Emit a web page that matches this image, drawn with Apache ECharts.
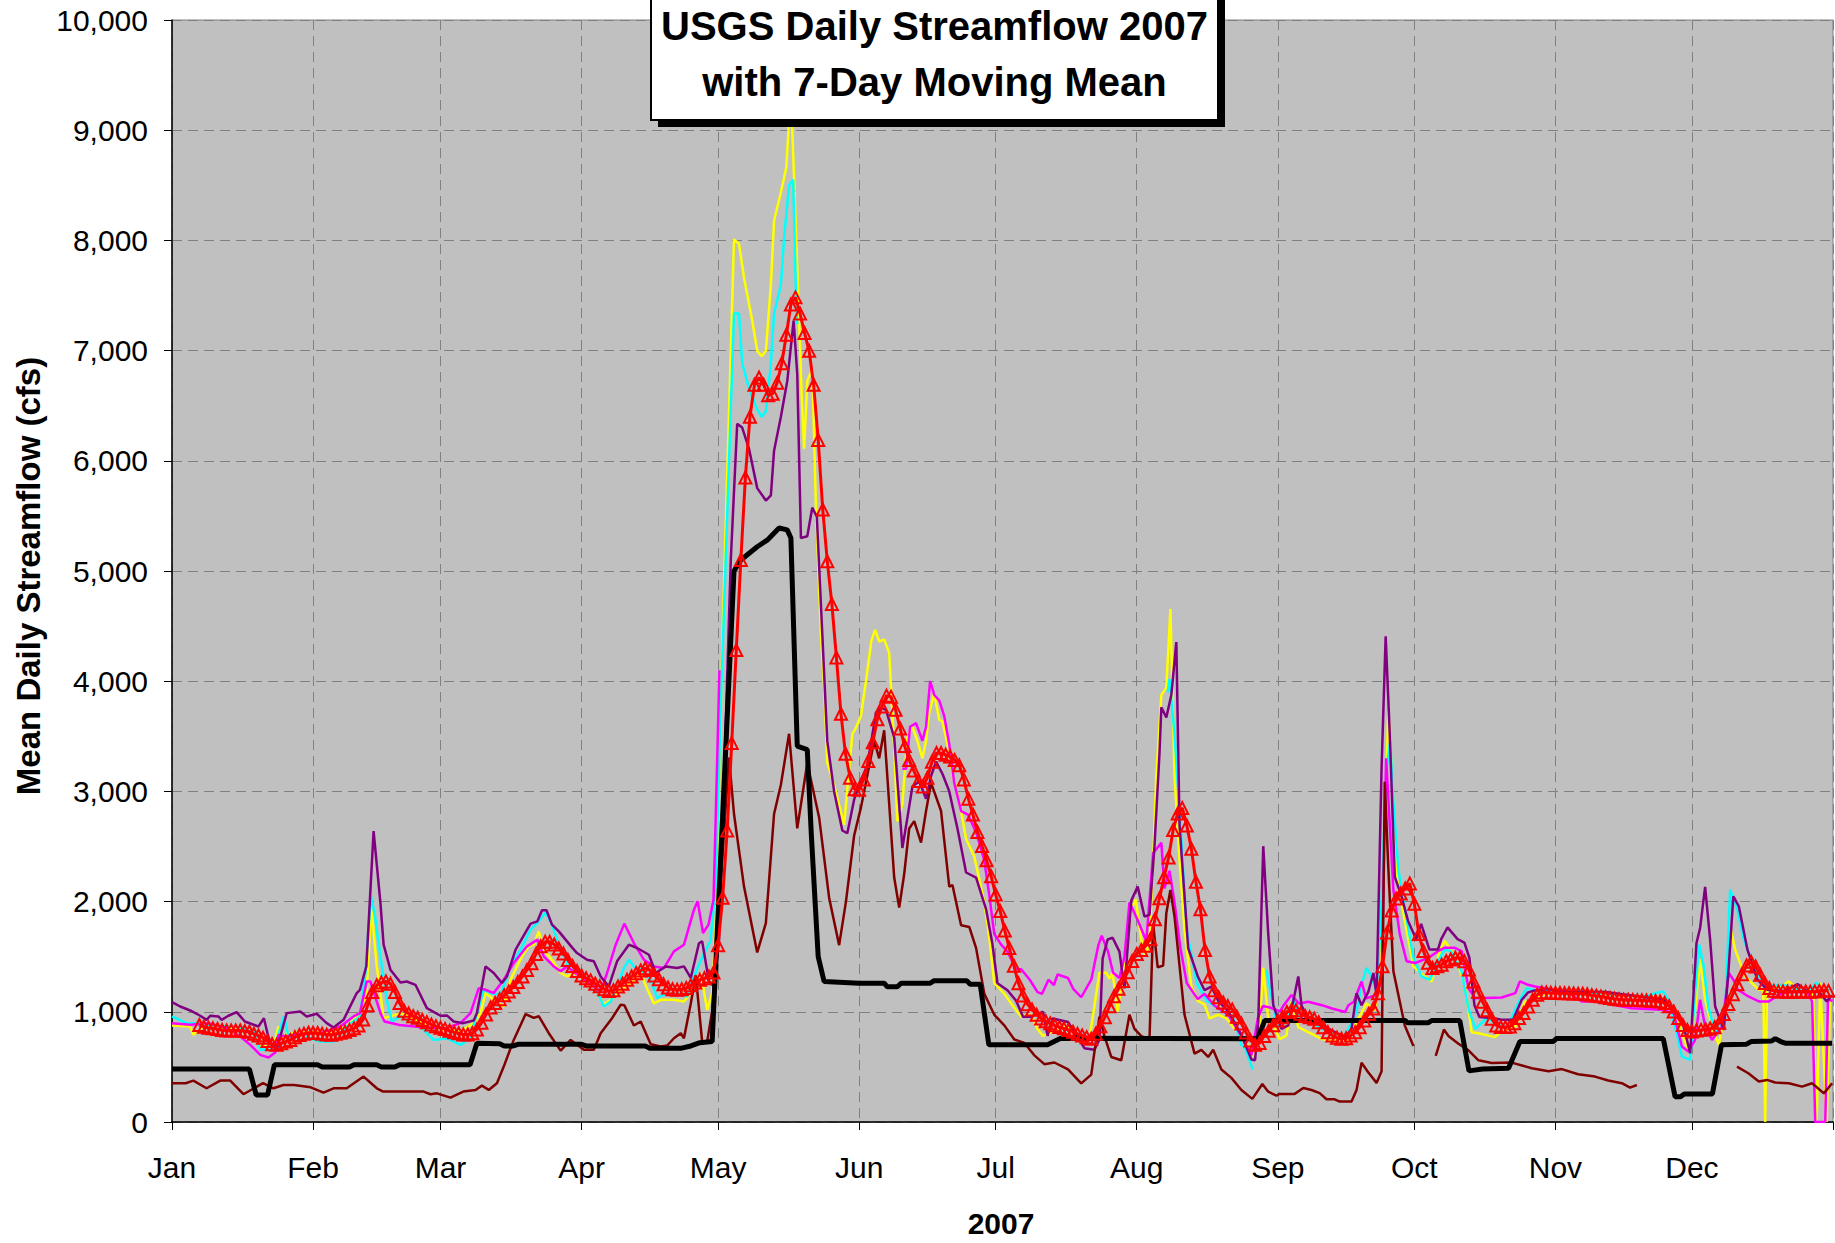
<!DOCTYPE html>
<html>
<head>
<meta charset="utf-8">
<script src="https://cdn.jsdelivr.net/npm/echarts@6/dist/echarts.min.js"></script>
<style>html,body{margin:0;padding:0;background:#fff}#c{width:1835px;height:1243px}</style>
</head>
<body>
<div id="c"></div>
<script>
// ---- data (day of year 2007, 0 = Jan 1) ----
const monthNames = ['Jan','Feb','Mar','Apr','May','Jun','Jul','Aug','Sep','Oct','Nov','Dec'];
const monthStartDays = [0,31,59,90,120,151,181,212,243,273,304,334];
const yearEndDay = 365;
const chartTitle = ['USGS Daily Streamflow 2007', 'with 7-Day Moving Mean'];
const yAxisTitle = 'Mean Daily Streamflow (cfs)';
const xAxisTitle = '2007';

const blackFlow = [[0,480],[17,480],[18.5,245],[21,245],[22.5,520],[32,520],[33,500],[39,500],[40,520],[45,520],[46,500],[49,500],[50,520],[65.5,520],[67,715],[72,710],[73,690],[75,690],[76,705],[90,705],[91,690],[104,690],[105,670],[112,670],[114,690],[116,720],[118.7,730],[123.5,5000],[125,5100],[128.6,5220],[130.8,5280],[133.4,5390],[135.2,5373],[136,5300],[137.4,3410],[139.6,3380],[140.5,2600],[142,1500],[143.3,1275],[151,1260],[156.5,1260],[157.2,1227],[159.4,1227],[160.2,1259],[166.6,1259],[167.4,1281],[174.7,1281],[175.4,1250],[177.6,1250],[179.5,700],[192.4,700],[195.3,760],[238.6,755],[240.1,921],[271,921],[271.5,900],[276,900],[276.8,920],[283,920],[285,464],[288,480],[293.7,488],[296.2,730],[303.5,730],[304.2,757],[327.7,757],[330.3,230],[331.5,230],[332.3,254],[338.5,254],[340.5,700],[346,706],[347,730],[351.5,735],[352.3,757],[353.5,730],[354.5,715],[364.8,715]];

const maroonFlow = [[0,352],[3,352],[4.7,376],[7.6,306],[10.6,376],[12.8,376],[15.7,252],[20,352],[22.3,306],[24.5,336],[26.8,336],[30.5,315],[33.3,267],[35.5,306],[38.4,306],[42.1,412],[45,306],[46.4,276],[55.3,276],[56.8,252],[58.2,260],[61.2,221],[64,276],[66.7,291],[68.1,330],[69.6,291],[71.4,352],[72.9,503],[75.1,745],[77.7,979],[79.5,945],[80.6,960],[82.8,806],[85.4,648],[87.6,745],[90.5,655],[92.7,655],[94.2,806],[96.7,942],[98.6,1064],[99.4,1060],[101.5,876],[103,912],[105.2,706],[107.4,685],[108.8,694],[110.3,760],[111.8,806],[112.5,760],[114,1076],[115.1,1330],[116.5,729],[117.6,729],[118.7,1009],[122.4,3307],[123.5,2795],[125.7,2136],[128.6,1539],[130.5,1804],[132.3,2795],[133.8,3060],[135.6,3523],[137.4,2664],[139.6,3258],[142.2,2764],[144.4,2036],[146.6,1605],[148.1,2000],[149.9,2600],[151.4,2855],[154.3,3460],[155.4,3300],[156.5,3555],[158.7,2218],[159.8,1945],[160.9,2250],[162,2664],[163.1,2730],[164.6,2536],[165.7,2822],[166.8,3077],[167.9,2950],[169,2822],[170.8,2136],[171.5,2150],[173.4,1785],[175.2,1770],[176.7,1578],[178.5,1163],[180.7,973],[182.9,877],[185.1,749],[187.3,717],[189.5,605],[191.7,525],[193.9,540],[196.9,477],[199.8,350],[202,430],[203.8,956],[204.9,780],[206.4,590],[208.6,560],[210.4,973],[211.5,845],[213,780],[214.8,749],[215.6,1800],[216.6,1403],[217.8,1420],[218.5,1897],[219.4,2105],[220.3,1865],[222.5,973],[224.7,621],[226.2,655],[227.7,590],[228.8,655],[230.6,477],[232.8,400],[235,290],[237.4,210],[239.6,345],[240.9,275],[242.7,240],[243.4,255],[246.7,255],[248.6,309],[250.4,290],[252.2,262],[253.7,206],[255.5,206],[256.6,185],[259.2,185],[260.3,290],[261.4,538],[262.9,450],[264.7,355],[265.8,460],[266.5,3087],[267.3,2290],[268.4,1367],[270.9,876],[272.8,690],null,[277.7,600],[279.5,839],[280.5,780],[282.7,710],[284.9,650],[287.1,560],[290,535],[294.4,539],[298.8,488],[302.5,460],[305.4,480],[309,433],[312.7,412],[315.6,376],[318.6,352],[320.4,312],[321.9,336],null,[343.9,503],[346.4,442],[348.7,367],[350.5,382],[352.3,358],[355.3,352],[358.2,321],[360.4,352],[363,260],[364.8,352]];

const purpleFlow = [[0,1088],[1.8,1048],[4,1012],[6.2,964],[7.6,927],[8.4,964],[10.2,958],[10.9,927],[12.4,964],[14.2,997],[16,912],[19,867],[20.2,942],[21.5,715],[23,655],[25.2,988],[28.2,1003],[29.6,958],[31.8,982],[34,897],[35.5,858],[37.7,927],[40.6,1170],[41.3,1200],[42.7,1412],[44.3,2639],[45.8,1988],[46.5,1609],[48,1382],[50.2,1266],[51.6,1275],[53.5,1245],[56,1033],[59,964],[60.4,967],[61.9,912],[64,897],[66.3,921],[67,988],[68.9,1412],[70.7,1352],[72.5,1261],[73.6,1321],[75.5,1564],[78.8,1800],[80.3,1821],[81.3,1921],[82.3,1921],[83.5,1791],[85,1730],[87.9,1585],[89,1533],[91.2,1473],[92.7,1458],[94.2,1321],[96,1230],[97.8,1458],[100.4,1609],[102.2,1579],[104.8,1518],[106.3,1352],[108.5,1412],[111,1397],[112.5,1412],[114,1307],[115.8,1622],[116.5,1640],[118,1275],[119.1,1230],[120.2,1640],[122.8,5109],[124.2,6335],[125.3,6302],[126.8,6109],[128.6,5752],[130.5,5639],[131.6,5687],[132.3,6092],[133.8,6400],[135.2,6723],[136.6,7273],[137.4,6787],[138.2,5300],[139.6,5315],[140.7,5575],[141.7,5494],[142.9,4427],[144,3456],[145.5,3000],[147.3,2645],[148.4,2620],[149.9,2927],[151.4,3100],[152.8,3240],[154.7,3715],[155.8,3760],[156.9,3740],[158.7,3490],[160.5,2487],[161.6,2760],[162.7,3045],[164.2,3092],[165.7,2934],[166.8,3140],[167.9,3270],[169.3,3160],[170.8,3000],[172.6,2664],[174.5,2264],[176.7,2218],[178.9,1929],[180.3,1610],[181.4,1259],[183.6,1196],[185.5,1100],[187,956],[188.8,956],[191.4,1000],[192.4,782],[193.5,940],[196.9,908],[200.5,670],[202.7,655],[203.8,750],[204.5,1482],[205.6,1656],[206.7,1672],[208.2,1546],[209.3,1213],[210.8,2009],[212.2,2136],[213.7,1865],[214.8,1880],[215.9,2503],[217,3348],[217.4,3764],[218.5,3670],[219.6,3875],[220.7,4355],[221.4,2694],[223.3,1578],[225.4,1323],[226.9,1196],[228.4,1228],[229.9,1100],[232.1,1004],[235,790],[237.2,568],[238,561],[238.7,906],[239.8,2503],[240.9,1705],[242,1060],[243.8,845],[245.3,876],[247.5,1321],[248.2,1060],[249.7,921],[252.7,876],[254.9,830],[257.8,768],[259.2,845],[260.3,1168],[261.4,1060],[262.9,1183],[264,1352],[264.7,1152],[265.8,3210],[266.7,4407],[267.6,3517],[268.7,2227],[270.2,2043],[271.6,1827],[273.4,1659],[274.5,1797],[276.3,1566],[278.2,1566],[278.9,1659],[280.3,1766],[282.5,1659],[284,1628],[285.1,1490],[286.2,1060],[287.3,953],[290,943],[292.2,928],[294.7,928],[296.6,1109],[298,1176],[299.5,1194],[302.5,1206],[304.7,1185],[315,1180],[327.8,1109],[330,1018],[332.2,867],[333.6,624],[335,1624],[335.8,1761],[336.9,2133],[338,1655],[339.1,1048],[341,836],[342.1,1412],[343.1,2048],[344.3,1958],[346.2,1564],[348.4,1291],[350.6,1200],[354.3,1188],[357.2,1252],[359.4,1185],[362,1180],[363.6,1094],[364.8,1150]];

const yellowFlow = [[0,876],[4,867],[4.7,791],[6.9,867],[10,850],[15,840],[18,800],[19.4,685],[22.3,685],[23.4,867],[24.2,730],[25.2,806],[30,815],[35,820],[38.4,867],[41.3,988],[42.8,1200],[43.8,1957],[45,1412],[46.5,942],[48,958],[50.2,988],[55,900],[59.7,836],[63.3,821],[66.3,897],[67.8,988],[68.9,1170],[70.7,1109],[72.9,1048],[74.4,1291],[76.9,1503],[78.4,1594],[79.5,1609],[80.6,1730],[81.7,1564],[83.2,1488],[85.4,1352],[86.8,1321],[88.6,1352],[90.8,1276],[92.7,1230],[94.9,1064],[96.4,1109],[98.6,1200],[100.8,1261],[103,1352],[104.5,1200],[105.9,1076],[107.4,1109],[110.3,1109],[112.5,1094],[114,1170],[115.1,1261],[116.2,1352],[117.6,1018],[118.7,1170],[119.5,1804],[121,4448],[123.5,8010],[124.6,7968],[125.7,7661],[127.5,7273],[128.6,6998],[129.6,6949],[130.5,6998],[131.6,7596],[132.3,8179],[133.8,8437],[135,8664],[135.5,9020],[136,9500],[136.3,9020],[137.6,7532],[138.4,6561],[138.9,6109],[139.6,6723],[140.7,6836],[141.5,5590],[142.6,4427],[143.3,3954],[144,3258],[145.5,3060],[147.7,2695],[149.5,3523],[150.2,3570],[151.4,3687],[152.5,4000],[153.7,4370],[154.5,4465],[155.4,4360],[156.5,4380],[157.6,4257],[158.7,3396],[159.4,2727],[160.5,2886],[161.6,3492],[162.7,3588],[163.8,3460],[164.9,3300],[165.7,3460],[166.4,3715],[167.5,3890],[168.6,3650],[169.3,3636],[170.4,3428],[171.5,3173],[173.4,2822],[174.5,2568],[176.3,2409],[178.5,1993],[179.6,1674],[180.7,1259],[182.9,1164],[185.1,1036],[186.6,957],[188.8,973],[190.2,845],[191.4,781],[193,813],[196,877],[199,781],[200.6,716],[201.7,781],[203.8,1354],[205.3,1354],[206,1300],[206.7,1354],[207.8,1004],[209.3,1450],[210.8,1929],[211.8,2020],[212.6,1770],[213.4,1547],[214,1515],[214.8,1643],[215.6,2375],[216.3,3141],[217.4,3875],[218.5,3940],[219.4,4656],[220.3,3141],[221.4,2375],[222.5,1738],[224,1228],[225.4,1100],[226.9,1068],[228,941],[229.9,973],[231.7,941],[233.5,845],[235.7,749],[237.6,600],[238.7,690],[239.8,1398],[240.9,936],[242,890],[243.4,753],[244.9,784],[246,1091],[247.5,860],[249.7,815],[252.7,753],[254.9,738],[258.5,738],[260.7,937],[262.5,1076],[264.3,1014],[265.4,1305],[266.2,2290],[267.3,3732],[268,3210],[269.1,2227],[270.9,1827],[272.8,1412],[274.9,1335],[276.8,1275],[278.6,1550],[279.7,1644],[281.2,1550],[282.6,1428],[284.1,1244],[285.6,815],[287.7,800],[290.7,770],[292.2,821],[295.2,867],[297.3,1094],[298.4,1094],[299.5,1139],[303,1170],[315,1160],[327,1130],[330.3,1018],[331.8,806],[333.3,640],[334.7,1020],[335.8,1473],[336.9,1109],[338.4,867],[339.9,700],[341.3,1000],[342.4,1776],[343.5,1564],[345.7,1321],[348.7,1200],[349.7,1200],[350.1,0],[350.5,1200],[353.7,1230],[355.3,1276],[357.4,1200],[360.6,1200],[361.4,0],[362.2,1264],[363.6,0],[364.4,1150]];

const cyanFlow = [[0,958],[3.2,897],[6,897],[10,870],[15,860],[18,820],[19.4,655],[22.3,655],[24.6,958],[25.6,776],[28,790],[32.6,730],[35.5,730],[38.4,867],[41.3,958],[42.5,1352],[43.7,2048],[44.6,1867],[45.8,1503],[47.2,1109],[48.3,912],[50.2,958],[51.6,927],[54.5,867],[57.5,745],[60.4,760],[61.9,730],[63.4,700],[65.5,760],[67,988],[68.5,1200],[70,1170],[72.2,1155],[74.4,1412],[76.6,1564],[78.8,1745],[80.6,1821],[82.1,1903],[83.5,1791],[85.4,1564],[87.6,1382],[89.8,1336],[92,1276],[93.4,1185],[94.9,1048],[96.4,1094],[97.8,1230],[99.3,1397],[100.4,1473],[101.5,1412],[103,1382],[105.2,1291],[106.6,1124],[108,1155],[111,1170],[113.2,1139],[114.7,1321],[116.6,1503],[118.3,1640],[119.5,2134],[120.6,3787],[123.5,7337],[124.6,7337],[125.3,6885],[126.8,6658],[128.6,6464],[129.6,6400],[130.5,6448],[131.6,6885],[132.3,7337],[133.8,7596],[134.5,8017],[135.6,8502],[136.5,8551],[137.1,7532],[137.4,7240],null,[218.8,3900],[219.2,4018],[220.3,3523],[221.6,2694],[223,1738],[225.2,1260],[227.4,1100],[230.3,1020],[233.2,940],[235,700],[235.7,685],[237.5,476],null,[240.5,1383],[241.6,1136],[243,860],[245.3,936],[246.4,1120],[247.5,951],[251.2,876],[254.2,815],[257.1,753],[258.5,845],[260.3,998],[261.4,1244],[262.5,1398],[263.6,1321],[264.7,1183],[265.6,1800],[266.9,3210],[267.7,3456],[268.4,2903],[269.5,2288],[271,1920],[272.8,1490],[274.6,1321],[276.4,1290],[278.2,1459],[279.7,1566],[281,1550],[283.4,1367],[284.9,1029],[286.4,845],[288.8,937],[289.2,943],[291.1,882],[292.2,867],[294,913],[296.2,1109],[297.7,1215],[300,1190],[310,1175],[320,1150],[323.8,1139],[326,1170],[327.7,1185],[328.8,1109],[330.3,867],[331.8,594],[333.6,564],[334.7,1170],[335.6,1609],[336.6,1412],[337.6,1048],[339.1,806],[341.3,988],[342.4,2109],[343.9,1942],[345.4,1655],[347.9,1382],[350.1,1230],[354,1245],[357.4,1200],[360,1210],[361.4,1267],[362.5,1185],[364.6,1200]];

const magentaFlow = [[0,897],[4,882],[8,897],[12,852],[15,776],[17.2,700],[19.4,609],[21.2,585],[22.7,630],[23.4,791],[25,776],[28,800],[32.6,806],[37,867],[39.9,958],[41.3,988],[42.8,1276],[43.6,1276],[45.8,988],[46.7,912],[50,880],[55,860],[60,850],[63.4,897],[65.6,988],[67.4,1215],[68.9,1200],[70.7,1170],[72.9,1291],[75.1,1443],[78,1594],[80.3,1655],[81.7,1503],[83.9,1412],[85.4,1367],[86.8,1412],[88.6,1352],[91.2,1276],[94.2,1185],[95.6,1352],[97.5,1609],[99.4,1800],[101.5,1624],[103.7,1473],[105.9,1412],[108.1,1397],[110.3,1548],[112.5,1609],[114.7,1927],[115.5,2003],[116.7,1715],[117.9,1791],[119,2018],[119.5,2795],[120.3,4100],null,[160.5,3205],[161.3,3205],[162.2,3587],[163.5,3620],[164.9,3460],[165.7,3587],[166.6,4002],[167.5,3875],[168.6,3825],[169.7,3683],[170.8,3428],[171.9,3077],[173.4,2822],[174.9,2790],[176.7,2630],[178.5,2375],[179.6,2056],[180.7,1705],[182.2,1610],[183.6,1546],[185.5,1386],[186.6,1386],[188.5,1291],[190.2,1179],[191.2,1163],[192.6,1291],[193.8,1243],[194.6,1339],[196.9,1307],[198,1211],[199.8,1132],[202,1291],[203.6,1610],[204.3,1690],[205.7,1546],[206.8,1355],[208.2,1307],[209.3,1500],[210.4,1993],[212.2,1833],[214.1,1642],[215.6,2439],[217.4,2535],[218.1,2120],[219.2,2280],[220.3,1993],[221.6,1578],[223,1260],[225.4,1115],[226.9,1163],[229.2,1052],[232.1,973],[235,780],[237.2,605],[238.6,940],[239.7,1052],[241.5,1036],[243.5,1004],[244.3,1060],[246,1152],[247.6,1076],[249.7,1091],[252.7,1060],[254.9,1030],[257.8,998],[258.5,1060],[259.7,1091],[261.4,1275],[262.4,1122],[264.7,1152],[265.8,1300],[266.8,3300],[268.4,2105],[269.8,1705],[271.3,1459],[273.2,1443],[276.1,1490],[278.2,1550],[279.7,1582],[281.8,1582],[283.4,1550],[284.9,1214],[286.4,1122],[292.2,1130],[295.2,1170],[296.2,1276],[298,1245],[299.5,1230],[302.5,1206],[306,1190],[309.8,1094],[312.7,1094],[320.8,1033],[327.4,1018],[330,988],[331.8,685],[333.2,640],[334.7,745],[335.8,1109],[336.9,867],[338.4,745],[340.6,867],[342.1,1352],[343.1,1291],[344.1,1200],[346.4,1139],[348.7,1094],[350.9,1094],[353.1,1155],[355.8,1185],[359.4,1176],[360.4,1094],[361.1,0],[363.3,0],[363.9,1109],[364.9,1100]];

// 7-day moving mean, one value per day starting at day 6
const movingMeanStartDay = 6;
const movingMean = [
880,865,855,850,845,835,830,830,830,830,825,820,800,785,765,735,705,700,715,730,745,770,790,800,810,810,
808,800,793,792,800,810,820,835,850,875,930,1060,1180,1240,1265,1276,1255,1180,1080,1010,985,960,945,925,905,885,870,
855,845,828,815,806,795,795,805,840,900,975,1040,1080,1115,1150,1185,1225,1270,1320,1380,1440,1525,1595,1635,1635,1610,1575,1530,1470,1415,1370,
1330,1305,1285,1255,1232,1205,1188,1195,1230,1255,1290,1320,1350,1375,1395,1380,1330,1295,1250,1220,1205,1200,1205,1215,1240,1265,1290,1305,1320,1357,
1605,2035,2646,3440,4283,5100,5849,6400,6690,6755,6690,6594,6609,6709,6885,7144,7418,7483,7337,7160,6998,6690,6189,5558,5089,4701,4216,3704,3341,3125,3020,
3016,3109,3275,3445,3655,3770,3869,3860,3741,3571,3412,3284,3189,3095,3045,3124,3268,3348,3348,3332,3316,3284,3237,3109,2934,2790,2631,2504,2375,2231,2064,
1914,1737,1578,1418,1259,1147,1068,1020,973,940,915,895,877,861,850,835,820,800,785,770,755,800,870,950,1050,1140,1210,1280,1360,1460,1525,
1560,1600,1660,1840,2030,2220,2400,2650,2800,2850,2690,2480,2180,1930,1560,1320,1196,1132,1084,1052,1020,956,893,813,740,700,716,781,829,877,920,
951,998,1014,1014,983,962,951,936,905,860,815,784,765,755,759,784,815,860,921,983,1030,1168,1413,1720,1919,2027,2073,2119,2165,1981,
1705,1551,1444,1398,1413,1428,1459,1474,1490,1490,1459,1383,1275,1183,1091,1014,937,876,861,861,867,897,943,988,1048,1109,1155,1176,1176,1172,1170,
1170,1168,1168,1166,1165,1165,1160,1150,1145,1140,1132,1125,1118,1113,1110,1110,1108,1106,1105,1102,1100,1098,1094,1080,1050,1003,943,880,835,821,
830,836,842,848,860,900,980,1070,1160,1250,1340,1420,1455,1412,1336,1261,1215,1190,1185,1185,1183,1183,1185,1185,1185,1183,1185,1190,1195,1190
];

// ---- chart ----
const FONT = "'Liberation Sans', Arial, sans-serif";
const toPairs = arr => arr.map(p => p === null ? ['-', '-'] : p);
function flowSeries(name, data, color, width, z) {
  return {
    name, type: 'line', data: toPairs(data), symbol: 'none', showSymbol: false,
    connectNulls: false, lineStyle: { color, width }, itemStyle: { color },
    z, silent: true, animation: false
  };
}

const chart = echarts.init(document.getElementById('c'), null, { renderer: 'svg', width: 1835, height: 1243 });
chart.setOption({
  backgroundColor: '#ffffff',
  animation: false,
  grid: { left: 172, right: 2, top: 20, bottom: 121, show: true, backgroundColor: '#c0c0c0',
          borderColor: '#808080', borderWidth: 1, containLabel: false, outerBoundsMode: 'none' },
  xAxis: {
    type: 'value', min: 0, max: yearEndDay,
    axisLine: { show: true, onZero: false, lineStyle: { color: '#000', width: 1.5 } },
    axisTick: { show: true, customValues: monthStartDays.concat([yearEndDay]), length: 8, lineStyle: { color: '#000' } },
    axisLabel: { customValues: monthStartDays, fontSize: 30, fontFamily: FONT, color: '#000', margin: 30,
                 formatter: v => monthNames[monthStartDays.indexOf(Math.round(v))] || '' },
    splitLine: { show: true, lineStyle: { color: '#808080', width: 1, type: [10, 6] } }
  },
  yAxis: {
    type: 'value', min: 0, max: 10000, interval: 1000,
    axisLine: { show: true, lineStyle: { color: '#000', width: 1.5 } },
    axisTick: { show: true, length: 8, lineStyle: { color: '#000' } },
    axisLabel: { fontSize: 30, fontFamily: FONT, color: '#000', margin: 24,
                 formatter: v => v.toLocaleString('en-US') },
    splitLine: { show: true, lineStyle: { color: '#808080', width: 1, type: [10, 6] } }
  },
  series: [
    flowSeries('Station A', yellowFlow, '#ffff00', 2.5, 3),
    flowSeries('Station B', cyanFlow, '#00ffff', 2.5, 3),
    flowSeries('Station C', magentaFlow, '#ff00ff', 2.5, 3),
    flowSeries('Station D', purpleFlow, '#800080', 2.5, 3),
    flowSeries('Station E', maroonFlow, '#800000', 2.5, 3),
    flowSeries('Station F', blackFlow, '#000000', 5, 4),
    {
      name: '7-Day Moving Mean', type: 'line', z: 5, animation: false, silent: true,
      data: movingMean.map((v, i) => [movingMeanStartDay + i, v]),
      symbol: 'triangle', symbolSize: 12, showSymbol: true,
      lineStyle: { color: '#ff0000', width: 3 },
      itemStyle: { color: 'rgba(0,0,0,0)', borderColor: '#ff0000', borderWidth: 2 }
    }
  ],
  graphic: [
    { type: 'rect', z: 100, shape: { x: 658, y: -3, width: 567, height: 130 }, style: { fill: '#000' } },
    { type: 'rect', z: 101, shape: { x: 651, y: -3, width: 567, height: 123 }, style: { fill: '#fff', stroke: '#000', lineWidth: 2 } },
    { type: 'text', z: 102, x: 934.5, y: 26, style: { text: chartTitle[0], font: "bold 40px " + FONT, fill: '#000', align: 'center', verticalAlign: 'middle' } },
    { type: 'text', z: 102, x: 934.5, y: 82, style: { text: chartTitle[1], font: "bold 40px " + FONT, fill: '#000', align: 'center', verticalAlign: 'middle' } },
    { type: 'text', z: 102, x: 28, y: 576, rotation: Math.PI / 2, style: { text: yAxisTitle, font: "bold 33px " + FONT, fill: '#000', align: 'center', verticalAlign: 'middle' } },
    { type: 'text', z: 102, x: 1001, y: 1223, style: { text: xAxisTitle, font: "bold 30px " + FONT, fill: '#000', align: 'center', verticalAlign: 'middle' } }
  ]
});
</script>
</body>
</html>
